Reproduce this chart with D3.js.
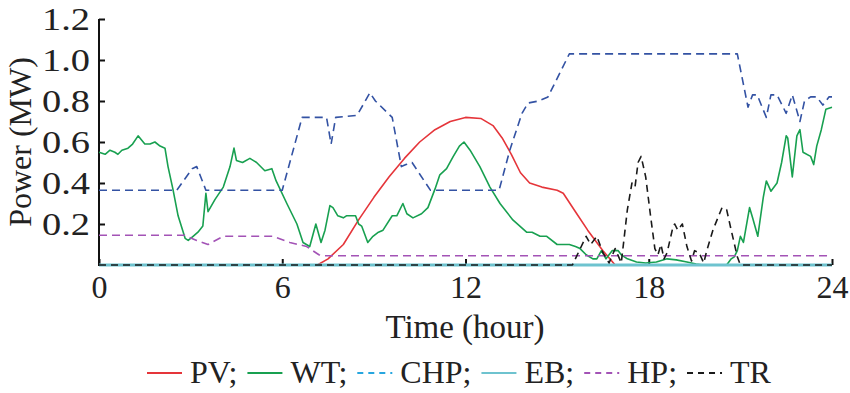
<!DOCTYPE html>
<html>
<head>
<meta charset="utf-8">
<script src="https://cdn.jsdelivr.net/npm/d3@7"></script>
<style>
  html, body { margin: 0; padding: 0; background: #fff; }
  svg { display: block; }
  text { font-family: "Liberation Serif", "Times New Roman", serif; fill: #222; }
</style>
</head>
<body>
<svg id="chart" width="850" height="393"></svg>
<script>
// ---------------- DATA ----------------
const xTicks = [0, 6, 12, 18, 24];
const yTicks = [0.2, 0.4, 0.6, 0.8, 1.0, 1.2];
const yTickLabels = ["0.2", "0.4", "0.6", "0.8", "1.0", "1.2"];
const legendNames = ["PV;", "WT;", "CHP;", "EB;", "HP;", "TR"];

const pvHours = [0, 7.15, 7.5, 8.0, 8.5, 9.0, 9.5, 10.0, 10.5, 11.0, 11.5, 12.0, 12.5, 12.9, 13.2, 13.5, 13.8, 14.1, 14.5, 15.0, 15.2, 15.6, 16.0, 16.5, 16.9, 24];
const pvValues = [0, 0, 0.03, 0.1, 0.22, 0.33, 0.43, 0.52, 0.6, 0.66, 0.7, 0.72, 0.715, 0.68, 0.62, 0.54, 0.45, 0.4, 0.38, 0.365, 0.35, 0.26, 0.17, 0.07, 0, 0];

const wtHours = [0, 0.2, 0.36, 0.52, 0.62, 0.75, 0.95, 1.1, 1.28, 1.5, 1.67, 1.83, 2.0, 2.16, 2.26, 2.42, 2.59, 2.82, 2.92, 3.08, 3.24, 3.4, 3.5, 3.57, 3.8, 4.07, 4.29, 4.42, 4.5, 4.7, 4.94, 5.16, 5.43, 5.66, 5.8, 6.15, 6.48, 6.68, 6.9, 7.1, 7.27, 7.4, 7.56, 7.66, 7.82, 8.0, 8.1, 8.4, 8.5, 8.6, 8.8, 8.97, 9.15, 9.3, 9.6, 9.75, 9.95, 10.08, 10.28, 10.56, 10.77, 11.0, 11.16, 11.38, 11.6, 11.8, 11.95, 12.15, 12.47, 12.8, 13.13, 13.55, 14.0, 14.18, 14.44, 14.66, 15.0, 15.4, 15.6, 15.75, 15.95, 16.17, 16.3, 16.45, 16.6, 16.8, 17.0, 17.1, 17.3, 17.6, 17.9, 18.25, 18.6, 18.9, 19.25, 19.55, 19.8, 20.55, 20.7, 20.8, 20.9, 21.0, 21.1, 21.3, 21.4, 21.57, 21.75, 21.85, 22.0, 22.2, 22.35, 22.5, 22.55, 22.7, 22.85, 22.95, 23.05, 23.3, 23.4, 23.5, 23.65, 23.8, 24];
const wtValues = [0.55, 0.54, 0.56, 0.55, 0.54, 0.56, 0.57, 0.59, 0.63, 0.59, 0.59, 0.6, 0.58, 0.57, 0.48, 0.37, 0.24, 0.13, 0.12, 0.14, 0.16, 0.19, 0.35, 0.26, 0.32, 0.38, 0.48, 0.57, 0.51, 0.5, 0.52, 0.5, 0.46, 0.47, 0.41, 0.3, 0.2, 0.11, 0.09, 0.2, 0.11, 0.17, 0.29, 0.28, 0.24, 0.23, 0.24, 0.24, 0.2, 0.19, 0.11, 0.14, 0.16, 0.17, 0.24, 0.24, 0.3, 0.25, 0.23, 0.25, 0.28, 0.37, 0.44, 0.47, 0.53, 0.58, 0.6, 0.56, 0.48, 0.38, 0.3, 0.22, 0.16, 0.16, 0.14, 0.14, 0.1, 0.1, 0.09, 0.08, 0.05, 0.03, 0.03, 0.07, 0.03, 0.07, 0.07, 0.05, 0.03, 0.015, 0.01, 0.015, 0.03, 0.025, 0.015, 0.005, 0, 0, 0.03, 0.04, 0.07, 0.14, 0.11, 0.28, 0.23, 0.14, 0.33, 0.41, 0.36, 0.4, 0.5, 0.63, 0.62, 0.43, 0.63, 0.66, 0.55, 0.53, 0.49, 0.58, 0.66, 0.76, 0.77];

const chpHours = [0, 2.55, 3.05, 3.2, 3.5, 6.0, 6.65, 7.45, 7.6, 7.75, 8.45, 8.87, 9.05, 9.6, 9.9, 10.05, 10.25, 10.85, 13.1, 13.45, 13.85, 14.05, 14.4, 14.7, 15.1, 15.4, 20.9, 21.25, 21.4, 21.55, 21.85, 22.0, 22.2, 22.5, 22.7, 22.95, 23.1, 23.3, 23.5, 23.7, 23.9, 24];
const chpValues = [0.365, 0.365, 0.47, 0.48, 0.365, 0.365, 0.72, 0.72, 0.59, 0.72, 0.73, 0.84, 0.8, 0.72, 0.48, 0.49, 0.5, 0.365, 0.365, 0.56, 0.74, 0.79, 0.8, 0.82, 0.94, 1.03, 1.03, 0.77, 0.83, 0.83, 0.72, 0.83, 0.83, 0.74, 0.83, 0.7, 0.8, 0.82, 0.82, 0.78, 0.82, 0.82];

const ebHours = [0, 24];
const ebValues = [0, 0];

const hpHours = [0, 2.8, 3.2, 3.57, 4.07, 5.7, 6.25, 6.8, 7.2, 7.4, 24];
const hpValues = [0.145, 0.145, 0.12, 0.1, 0.14, 0.14, 0.11, 0.09, 0.05, 0.045, 0.045];

const trHours = [0, 15.5, 15.95, 16.1, 16.3, 16.5, 16.7, 16.9, 17.1, 17.3, 17.45, 17.55, 17.65, 17.75, 17.9, 18.05, 18.2, 18.3, 18.4, 18.5, 18.6, 18.8, 18.85, 18.95, 19.1, 19.25, 19.4, 19.5, 19.65, 19.8, 19.9, 20.1, 20.4, 20.55, 20.7, 20.9, 21.0, 24];
const trValues = [0, 0, 0.14, 0.1, 0.14, 0.06, 0.01, 0.08, 0.01, 0.27, 0.4, 0.38, 0.5, 0.53, 0.43, 0.25, 0.08, 0.05, 0.1, 0.03, 0.06, 0.19, 0.2, 0.17, 0.2, 0.09, 0.02, 0.07, 0.06, 0.01, 0.07, 0.17, 0.28, 0.27, 0.17, 0.04, 0, 0];

// ---------------- DRAW ----------------
const svg = d3.select("#chart");
const x = d3.scaleLinear().domain([0, 24]).range([99, 832]);
const y = d3.scaleLinear().domain([0, 1.2]).range([265, 19]);

const series = [
  { name: legendNames[0], h: pvHours, v: pvValues, color: "#e5353a", legendColor: "#e5353a", dash: null, w: 1.6 },
  { name: legendNames[1], h: wtHours, v: wtValues, color: "#18a050", legendColor: "#18a050", dash: null, w: 1.6 },
  { name: legendNames[2], h: chpHours, v: chpValues, color: "#3352a3", legendColor: "#27a6df", dash: "8,5", w: 1.6 },
  { name: legendNames[3], h: ebHours, v: ebValues, color: "#6ec3cf", legendColor: "#6ec3cf", dash: null, w: 3 },
  { name: legendNames[4], h: hpHours, v: hpValues, color: "#a353b6", legendColor: "#a353b6", dash: "8,5", w: 1.6 },
  { name: legendNames[5], h: trHours, v: trValues, color: "#1a1a1a", legendColor: "#1a1a1a", dash: "7,5", w: 1.6 }
];

// axes
const xAxis = d3.axisBottom(x).tickValues(xTicks).tickSize(-6).tickPadding(0).tickFormat(d3.format("d"));
const gx = svg.append("g").attr("transform", "translate(0,265)").call(xAxis);
gx.select(".domain").attr("stroke", "#111").attr("stroke-width", 2).attr("d", "M99,0H832");
gx.selectAll(".tick line").attr("stroke", "#111").attr("stroke-width", 2);
gx.selectAll(".tick text").attr("font-size", 32).attr("fill", "#222").attr("dy", null).attr("y", 33)
  .style("font-family", "'Liberation Serif', serif");

const yAxis = d3.axisLeft(y).tickValues(yTicks).tickSize(-6).tickPadding(9).tickFormat((d, i) => yTickLabels[i]);
const gy = svg.append("g").attr("transform", "translate(99,0)").call(yAxis);
gy.select(".domain").attr("stroke", "#111").attr("stroke-width", 2).attr("d", "M0,19V266");
gy.selectAll(".tick line").attr("stroke", "#111").attr("stroke-width", 2);
gy.selectAll(".tick text")
  .attr("x", null)
  .attr("dy", "0.34em")
  .attr("transform", "translate(-9,0) scale(1.2,1)")
  .attr("font-size", 32).attr("fill", "#222")
  .style("font-family", "'Liberation Serif', serif");

// lines
const line = d3.line().x(d => x(d[0])).y(d => y(d[1]));
series.forEach(s => {
  const pts = s.h.map((h, i) => [h, s.v[i]]);
  const p = svg.append("path").datum(pts)
    .attr("d", line)
    .attr("fill", "none")
    .attr("stroke", s.color)
    .attr("stroke-width", s.w)
    .attr("stroke-linejoin", "round");
  if (s.dash) p.attr("stroke-dasharray", s.dash);
});

// axis titles
svg.append("text").attr("x", 465).attr("y", 338).attr("text-anchor", "middle")
  .attr("font-size", 33).text("Time (hour)");
svg.append("text").attr("transform", "translate(31,142) rotate(-90)").attr("text-anchor", "middle")
  .attr("font-size", 32).text("Power (MW)");

// legend
let lx = 147;
const ly = 373;
series.forEach(s => {
  const l = svg.append("line").attr("x1", lx).attr("x2", lx + 35).attr("y1", ly).attr("y2", ly)
    .attr("stroke", s.legendColor).attr("stroke-width", 2);
  if (s.dash) l.attr("stroke-dasharray", "6,5");
  const t = svg.append("text").attr("x", lx + 43).attr("y", ly + 10).attr("font-size", 32).text(s.name);
  lx += 43 + t.node().getComputedTextLength() + 10;
});
</script>
</body>
</html>
